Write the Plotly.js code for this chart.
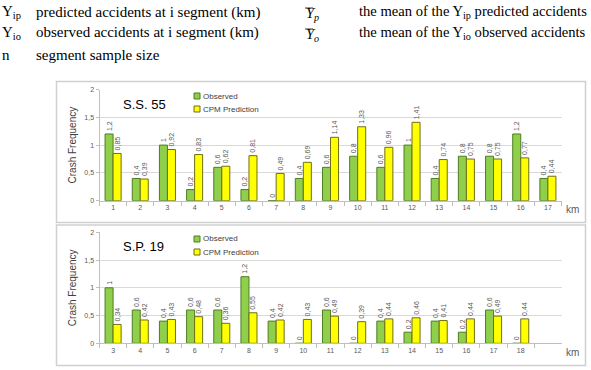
<!DOCTYPE html>
<html>
<head>
<meta charset="utf-8">
<script src="https://cdn.plot.ly/plotly-3.0.1.min.js"></script>
<style>
html,body{margin:0;padding:0;background:#fff;}
#chart{width:591px;height:370px;}
</style>
</head>
<body>
<div id="chart"></div>
<script>
// ---- Data ----
const kmSS55 = ["1","2","3","4","5","6","7","8","9","10","11","12","13","14","15","16","17"];
const observedSS55 = [1.2, 0.4, 1, 0.2, 0.6, 0.2, 0, 0.4, 0.6, 0.8, 0.6, 1, 0.4, 0.8, 0.8, 1.2, 0.4];
const predictedSS55 = [0.85, 0.39, 0.92, 0.83, 0.62, 0.81, 0.49, 0.69, 1.14, 1.33, 0.96, 1.41, 0.74, 0.75, 0.75, 0.77, 0.44];

const kmSP19 = ["3","4","5","6","7","8","9","10","11","12","13","14","15","16","17","18"];
const observedSP19 = [1, 0.6, 0.4, 0.6, 0.6, 1.2, 0.4, 0, 0.6, 0, 0.4, 0.2, 0.4, 0.2, 0.6, 0];
const predictedSP19 = [0.34, 0.42, 0.43, 0.48, 0.36, 0.55, 0.42, 0.43, 0.49, 0.39, 0.44, 0.46, 0.41, 0.44, 0.49, 0.44];

const yTicks = [0, 0.5, 1, 1.5, 2];
const seriesNames = ["Observed", "CPM Prediction"];
const panelTitles = ["S.S. 55", "S.P. 19"];

// ---- Helpers ----
const W = 591, H = 370;
const px = x => x / W;
const py = y => 1 - y / H;
const lab = arr => arr.map(v => String(v).replace('.', ','));

const GREEN = '#8fcf4c', GREEN_LINE = '#4f7d22';
const YELLOW = '#ffff00', YELLOW_LINE = '#6f6f1a';
const LABEL = '#595959';
const FONT = 'Liberation Sans, Arial, sans-serif';

function barTrace(x, y, name, fill, line, xa, ya) {
  return {
    type: 'bar', x: x, y: y, name: name, xaxis: xa, yaxis: ya, showlegend: false,
    marker: {color: fill, line: {color: line, width: 1}},
    text: lab(y), textposition: 'outside', textangle: -90,
    textfont: {size: 7, color: LABEL, family: FONT},
    constraintext: 'none', cliponaxis: false, hoverinfo: 'x+y'
  };
}

const data = [
  barTrace(kmSS55, observedSS55, seriesNames[0], GREEN, GREEN_LINE, 'x', 'y'),
  barTrace(kmSS55, predictedSS55, seriesNames[1], YELLOW, YELLOW_LINE, 'x', 'y'),
  barTrace(kmSP19, observedSP19, seriesNames[0], GREEN, GREEN_LINE, 'x2', 'y2'),
  barTrace(kmSP19, predictedSP19, seriesNames[1], YELLOW, YELLOW_LINE, 'x2', 'y2')
];

function xAxis(anchor, n) {
  return {
    type: 'category', anchor: anchor, domain: [px(99.5), px(561.5)],
    range: [-0.5, n - 0.5], showline: true, linecolor: '#bfbfbf', linewidth: 1,
    ticks: 'outside', ticklen: 4, tickcolor: '#bfbfbf', tickson: 'boundaries',
    tickfont: {size: 7, color: LABEL, family: FONT}, showgrid: false, zeroline: false,
    fixedrange: true
  };
}
function yAxis(anchor, top, bottom) {
  return {
    anchor: anchor, domain: [py(bottom), py(top)], range: [0, 2],
    tickvals: yTicks, showline: true, linecolor: '#bfbfbf', linewidth: 1,
    ticks: 'outside', ticklen: 3, tickcolor: '#bfbfbf',
    tickfont: {size: 7, color: LABEL, family: FONT},
    showgrid: true, gridcolor: '#d9d9d9', gridwidth: 1, zeroline: false,
    title: {text: 'Crash Frequency', font: {size: 10, color: '#404040', family: FONT}, standoff: 5},
    fixedrange: true
  };
}

const serif = 'Liberation Serif, Times New Roman, serif';
function topText(x, y, t, size) {
  return {xref: 'paper', yref: 'paper', x: px(x), y: py(y), xanchor: 'left', yanchor: 'middle',
          text: t, showarrow: false, font: {family: serif, size: size || 15, color: '#000'}};
}
function note(x, y, t, size, color, anchor) {
  return {xref: 'paper', yref: 'paper', x: px(x), y: py(y), xanchor: anchor || 'center', yanchor: 'middle',
          text: t, showarrow: false, font: {family: FONT, size: size, color: color}};
}

const annotations = [
  topText(0, 12, 'Y<sub>ip</sub>'),
  topText(34, 12, 'predicted accidents at i segment (km)'),
  topText(0, 33, 'Y<sub>io</sub>'),
  topText(34, 33, 'observed accidents at i segment (km)'),
  topText(0, 55, 'n'),
  topText(34, 55, 'segment sample size'),
  topText(304, 14, '<i>Y</i><sub><i>p</i></sub>', 14.5),
  topText(357, 12, 'the mean of the Y<sub>ip</sub> predicted accidents', 14.6),
  topText(304, 35, '<i>Y</i><sub><i>o</i></sub>', 14.5),
  topText(357, 33, 'the mean of the Y<sub>io</sub> observed accidents', 14.6),
  note(144, 104, panelTitles[0], 13, '#000'),
  note(143, 247, panelTitles[1], 13, '#000'),
  note(572, 209, 'km', 10, LABEL),
  note(572, 352, 'km', 10, LABEL),
  // legends
  note(201, 96, seriesNames[0], 8, '#404040', 'left'),
  note(201, 109, seriesNames[1], 8, '#404040', 'left'),
  note(201, 239, seriesNames[0], 8, '#404040', 'left'),
  note(201, 252, seriesNames[1], 8, '#404040', 'left')
];

function legendBox(y, fill, line) {
  return {type: 'rect', xref: 'paper', yref: 'paper', x0: px(194), x1: px(200), y0: py(y + 3), y1: py(y - 3),
          fillcolor: fill, line: {color: line, width: 1}};
}

const shapes = [
  {type: 'rect', xref: 'paper', yref: 'paper', x0: px(56.5), x1: px(585.5), y0: py(222.5), y1: py(81.5),
   line: {color: '#d0d0d0', width: 1.5}},
  {type: 'rect', xref: 'paper', yref: 'paper', x0: px(56.5), x1: px(585.5), y0: py(365.5), y1: py(225),
   line: {color: '#d0d0d0', width: 1.5}},
  // overlines of the mean symbols
  {type: 'line', xref: 'paper', yref: 'paper', x0: px(305), x1: px(313), y0: py(8), y1: py(8),
   line: {color: '#000', width: 0.8}},
  {type: 'line', xref: 'paper', yref: 'paper', x0: px(305), x1: px(313), y0: py(29), y1: py(29),
   line: {color: '#000', width: 0.8}},
  legendBox(96, GREEN, GREEN_LINE),
  legendBox(109, YELLOW, YELLOW_LINE),
  legendBox(239, GREEN, GREEN_LINE),
  legendBox(252, YELLOW, YELLOW_LINE)
];

const layout = {
  width: W, height: H, margin: {l: 0, r: 0, t: 0, b: 0},
  paper_bgcolor: '#fff', plot_bgcolor: 'rgba(0,0,0,0)',
  separators: ',.', barmode: 'group', bargap: 0.41, bargroupgap: 0,
  font: {family: FONT}, showlegend: false,
  xaxis: xAxis('y', kmSS55.length),
  yaxis: yAxis('x', 89.5, 200.7),
  xaxis2: xAxis('y2', kmSP19.length + 1),
  yaxis2: yAxis('x2', 232.3, 343.3),
  annotations: annotations, shapes: shapes
};

Plotly.newPlot('chart', data, layout, {displayModeBar: false, staticPlot: true});
</script>
</body>
</html>
